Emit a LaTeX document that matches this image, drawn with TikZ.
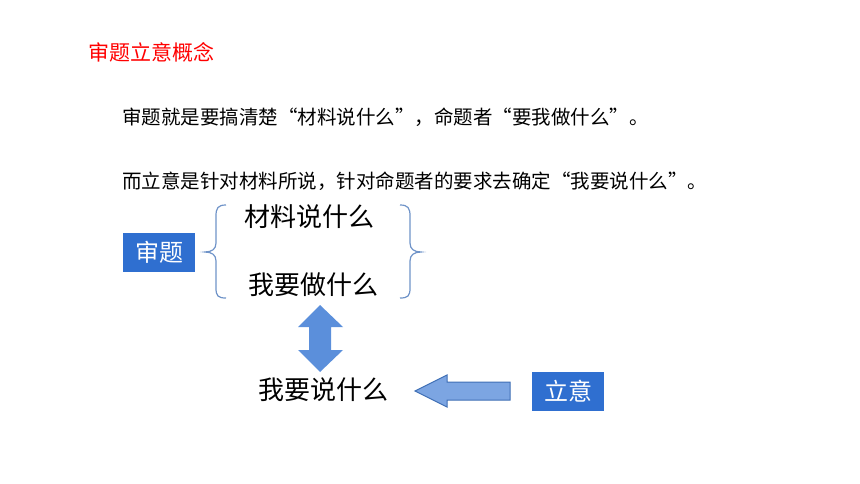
\documentclass[tikz,border=0pt]{standalone}
\usepackage{fontspec}
\setmainfont{Noto Sans CJK SC}
\definecolor{bx}{HTML}{2F6FD0}
\definecolor{ar}{HTML}{5B8FDB}
\definecolor{ard}{HTML}{3F6FB5}
\definecolor{br}{HTML}{6F93C8}
\tikzset{
 fbox/.style={fill=bx,text=white,font=\fontsize{24pt}{26pt}\selectfont,minimum width=72pt,minimum height=39pt,inner sep=0pt},
 big/.style={font=\fontsize{26pt}{28pt}\selectfont,inner sep=0pt},
 txt/.style={font=\fontsize{19.5pt}{22pt}\selectfont,anchor=west,inner sep=0pt},
 brc/.style={draw=br,line width=1.2pt}
}
\begin{document}
\begin{tikzpicture}[x=1pt,y=-1pt]
\useasboundingbox (0,0) rectangle (860,484);
\node[anchor=west,text=red,inner sep=0pt,font=\fontsize{21pt}{23pt}\selectfont] (title) at (88,52) {审题立意概念};
\node[txt] (l1) at (122,117) {审题就是要搞清楚“材料说什么”，命题者“要我做什么”。};
\node[txt] (l2) at (122,181) {而立意是针对材料所说，针对命题者的要求去确定“我要说什么”。};
\node[fbox] (sh) at (159,252) {审题};
\node[big] (a) at (309,217) {材料说什么};
\node[big] (b) at (313,285) {我要做什么};
\node[big] (c) at (323,390) {我要说什么};
\node[fbox] (ly) at (568,391) {立意};
\draw[brc] (226,205) .. controls (218,205) and (216,208) .. (216,216) -- (216,243) .. controls (216,249) and (212,252) .. (205,252) .. controls (212,252) and (216,255) .. (216,261) -- (216,288) .. controls (216,296) and (218,298) .. (226,298);
\draw[brc] (400,205) .. controls (408,205) and (410,208) .. (410,216) -- (410,243) .. controls (410,249) and (414,252) .. (421,252) .. controls (414,252) and (410,255) .. (410,261) -- (410,288) .. controls (410,296) and (408,298) .. (400,298);
\fill[ar] (320,305) -- (343,327) -- (331,327) -- (331,350) -- (343,350) -- (320,372) -- (298,350) -- (309,350) -- (309,327) -- (298,327) -- cycle;
\filldraw[fill=ar!80!white,draw=ard,line width=1pt] (415,391) -- (447,375) -- (447,382) -- (510,382) -- (510,400) -- (447,400) -- (447,407) -- cycle;
\end{tikzpicture}
\end{document}
